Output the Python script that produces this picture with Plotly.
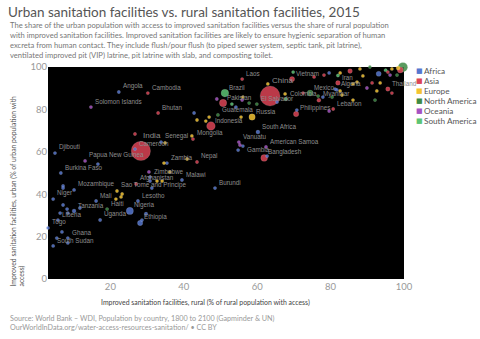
import plotly.graph_objects as go
import numpy as np

# ---------------- data (rural %, urban %, population millions) ----------------
africa_country = ["Angola", "Cameroon", "Djibouti", "", "Burkina Faso", "", "", "Mozambique", "Niger", "Mali",
                  "Lesotho", "", "", "Tanzania", "", "Nigeria", "", "", "Liberia", "Uganda",
                  "Ethiopia", "Kenya", "", "Togo", "", "Ghana", "", "", "South Sudan", "Zimbabwe",
                  "", "", "Malawi", "Burundi", "Zambia", "Senegal", "", "South Africa", "Gambia", "",
                  "", "", "", "", "Algeria", "", "Egypt", "", ""]
africa_rural = [22.3, 26.7, 4.9, 16.6, 6.5, 7.1, 7.1, 10.1, 4.4, 16.1,
                27.5, 7.1, 8.2, 10.1, 11.7, 25.3, 6.3, 8.4, 5.7, 17.2,
                28.1, 29.7, 28.6, 3.0, 6.8, 8.4, 5.4, 8.4, 4.4, 30.8,
                30.8, 31.3, 39.5, 48.5, 35.4, 33.8, 42.8, 60.2, 56.1, 54.8,
                62.7, 65.4, 54.2, 70.8, 81.7, 79.6, 93.1, 81.2, 77.9]
africa_urban = [88.2, 61.3, 59.4, 54.2, 50.0, 43.9, 42.9, 42.0, 37.7, 36.8,
                36.8, 34.9, 33.0, 32.1, 33.5, 32.1, 31.1, 31.1, 27.8, 27.8,
                26.4, 30.7, 27.8, 24.1, 22.2, 19.3, 19.3, 17.0, 15.6, 48.1,
                46.2, 42.9, 46.7, 42.9, 54.7, 64.6, 78.3, 69.3, 62.7, 60.8,
                58.0, 83.5, 81.1, 79.7, 89.2, 97.2, 96.8, 89.6, 85.8]
africa_pop = [28, 23, 1, 8, 18, 8, 8, 28, 20, 17,
              2, 5, 10, 53, 10, 182, 5, 40, 4.5, 40,
              100, 47, 10, 7, 5, 27, 5, 8, 12, 15,
              8, 8, 17, 10, 16, 15, 5, 55, 2, 5,
              5, 5, 5, 5, 40, 5, 92, 5, 5]

asia_country = ["Cambodia", "Bhutan", "India", "", "Afghanistan", "Nepal", "Mongolia", "Indonesia", "Pakistan",
                "China", "Laos", "Vietnam", "Philippines", "Bangladesh", "Iran", "Myanmar", "", "",
                "Turkey", "", "Lebanon", "Thailand", "", "", "", "Japan"]
asia_rural = [30.2, 33.0, 28.3, 26.7, 27.0, 43.6, 42.5, 47.4, 50.7,
              63.5, 55.9, 69.5, 70.6, 61.9, 82.0, 76.8, 75.5, 78.2,
              85.3, 72.5, 80.7, 95.6, 96.7, 91.3, 95.6, 99.0]
asia_urban = [87.7, 78.3, 60.4, 68.4, 44.8, 55.2, 66.0, 72.2, 83.0,
              86.3, 94.3, 94.3, 77.8, 57.1, 92.5, 84.3, 95.3, 96.2,
              98.1, 87.7, 80.2, 89.6, 87.7, 92.5, 97.6, 98.6]
asia_pop = [15, 1, 1310, 3, 33, 28, 3, 258, 190,
            1400, 7, 93, 101, 161, 79, 53, 5, 5,
            78, 5, 6, 68, 10, 5, 5, 127]

europe_country = ["Sao Tome and Principe", "", "", "", "", "", "", "", "", "", "", "", "", "", "",
                  "Russia", "", "", "", "", "", "", "", "", "", "", "", "", "", "", "Germany"]
europe_rural = [21.8, 23.2, 22.9, 21.5, 32.7, 34.1, 36.2, 34.6, 40.9, 34.9, 42.2, 43.6, 46.0, 46.9, 55.6,
                58.6, 56.1, 62.9, 67.6, 82.6, 88.0, 88.8, 87.2, 86.1, 82.6, 83.1, 86.1, 92.6, 96.7, 93.5, 98.4]
europe_urban = [41.5, 40.1, 38.7, 37.7, 46.2, 46.2, 50.5, 54.7, 56.6, 64.2, 67.5, 75.0, 74.5, 76.4, 76.4,
                76.4, 85.8, 92.0, 87.3, 97.2, 99.1, 95.8, 92.9, 92.0, 88.7, 86.8, 84.4, 88.7, 99.1, 92.5, 99.5]
europe_pop = [1, 10, 5, 5, 5, 5, 5, 5, 5, 5, 5, 5, 5, 5, 5,
              144, 5, 5, 5, 5, 5, 5, 5, 5, 5, 5, 5, 5, 5, 5, 60]

namerica_country = ["Haiti", "Guatemala", "Mexico", "El Salvador", "", "", "", "", "", "", "United States"]
namerica_rural = [19.1, 49.3, 74.4, 59.9, 57.8, 76.6, 80.4, 92.1, 90.7, 98.1, 99.7]
namerica_urban = [33.0, 77.4, 87.7, 82.5, 83.0, 86.3, 85.8, 84.4, 100.0, 96.2, 99.9]
namerica_pop = [11, 16, 125, 6, 9, 5, 5, 3, 5, 5, 320]

samerica_country = ["Brazil", "Colombia", "", "", "", ""]
samerica_rural = [51.2, 67.8, 69.8, 53.1, 82.0, 95.0]
samerica_urban = [87.7, 84.9, 97.6, 82.5, 96.0, 98.5]
samerica_pop = [205, 48, 9, 16, 30, 10]

oceania_country = ["Solomon Islands", "Papua New Guinea", "", "Vanuatu", "", "American Samoa", "", "", "", "", ""]
oceania_rural = [14.7, 13.1, 30.5, 55.0, 55.3, 62.4, 55.9, 49.0, 89.9, 79.6, 96.2]
oceania_urban = [81.1, 55.7, 50.5, 64.6, 63.2, 62.3, 84.4, 84.9, 90.1, 79.2, 96.2]
oceania_pop = [0.6, 8, 1, 0.3, 0.3, 0.1, 1, 1, 1, 1, 1]

continents = ["Africa", "Asia", "Europe", "North America", "Oceania", "South America"]
colors = {"Africa": "#5677cf", "Asia": "#dc4455", "Europe": "#f4c431",
          "North America": "#3f8a45", "Oceania": "#a552c2", "South America": "#5cc474"}

labeled = {"Angola", "Cameroon", "Djibouti", "Burkina Faso", "Mozambique", "Niger", "Mali", "Lesotho",
           "Tanzania", "Nigeria", "Liberia", "Uganda", "Ethiopia", "Togo", "Ghana", "South Sudan",
           "Zimbabwe", "Malawi", "Burundi", "Zambia", "Senegal", "South Africa", "Gambia", "Algeria",
           "Cambodia", "Bhutan", "India", "Afghanistan", "Nepal", "Mongolia", "Indonesia", "Pakistan",
           "China", "Laos", "Vietnam", "Philippines", "Bangladesh", "Iran", "Myanmar", "Lebanon", "Thailand",
           "Sao Tome and Principe", "Russia", "Haiti", "Guatemala", "Mexico", "El Salvador",
           "Brazil", "Colombia", "Solomon Islands", "Papua New Guinea", "Vanuatu", "American Samoa"}
big_labels = {"India", "China"}
centered_labels = {"Gambia"}

groups = {
    "Africa": (africa_country, africa_rural, africa_urban, africa_pop),
    "Asia": (asia_country, asia_rural, asia_urban, asia_pop),
    "Europe": (europe_country, europe_rural, europe_urban, europe_pop),
    "North America": (namerica_country, namerica_rural, namerica_urban, namerica_pop),
    "Oceania": (oceania_country, oceania_rural, oceania_urban, oceania_pop),
    "South America": (samerica_country, samerica_rural, samerica_urban, samerica_pop),
}

names, xs, ys, pops, cols = [], [], [], [], []
for c in continents:
    n, x, y, p = groups[c]
    names += n; xs += x; ys += y; pops += p; cols += [colors[c]] * len(n)
pops = np.array(pops, float)
diam = np.maximum(3.3, 20 * np.sqrt(pops / 1400))
order = np.argsort(-pops, kind="stable")

fig = go.Figure()
fig.add_trace(go.Scatter(
    x=np.array(xs)[order], y=np.array(ys)[order], mode="markers",
    text=np.array(names)[order], hoverinfo="text",
    marker=dict(size=diam[order], color=np.array(cols)[order], opacity=0.85,
                line=dict(width=0.4, color="rgba(255,255,255,0.35)")),
    cliponaxis=False, showlegend=False))

annotations = []
for i, nm in enumerate(names):
    if nm in labeled:
        r = diam[i] / 2
        big = nm in big_labels
        mid = nm in centered_labels
        annotations.append(dict(
            x=xs[i], y=ys[i], xref="x", yref="y", text=nm, showarrow=False,
            xanchor="left", yanchor="top" if mid else "bottom",
            xshift=0 if r > 5 else 2, yshift=(r * 0.9 if r > 5 else 0) + (2 if mid else 0),
            font=dict(family="Liberation Sans", size=8 if big else 6.3, color="#8e8e8e")))

L, R, T, B = 48, 76, 67, 60
W, H = 480, 339
pw, ph = W - L - R, H - T - B
def px(x): return (x - L) / pw
def py(y): return (H - B - y) / ph

# legend
for k, c in enumerate(continents):
    yy = py(71 + 10 * k)
    annotations.append(dict(x=px(414), y=yy, xref="paper", yref="paper", text="■", showarrow=False,
                            xanchor="left", yanchor="middle",
                            font=dict(family="DejaVu Sans", size=7, color=colors[c])))
    annotations.append(dict(x=px(422), y=yy, xref="paper", yref="paper", text=c, showarrow=False,
                            xanchor="left", yanchor="middle",
                            font=dict(family="Lato", size=8.2, color="#555")))

annotations.append(dict(
    x=px(8), y=py(18), xref="paper", yref="paper", xanchor="left", yanchor="top", align="left",
    showarrow=False,
    text=("The share of the urban population with access to improved sanitation facilities versus the share of rural population<br>"
          "with improved sanitation facilities. Improved sanitation facilities are likely to ensure hygienic separation of human<br>"
          "excreta from human contact. They include flush/pour flush (to piped sewer system, septic tank, pit latrine),<br>"
          "ventilated improved pit (VIP) latrine, pit latrine with slab, and composting toilet."),
    font=dict(family="Lato", size=7.6, color="#777")))

annotations.append(dict(
    x=px(17), y=py(289), xref="paper", yref="paper", xanchor="center", yanchor="bottom", align="left",
    textangle=-90, showarrow=False,
    text="Improved sanitation facilities, urban (% of urban population with<br>access)",
    font=dict(family="Lato", size=6.8, color="#555")))

annotations.append(dict(
    x=px(205), y=py(302), xref="paper", yref="paper", xanchor="center", yanchor="middle",
    showarrow=False, text="Improved sanitation facilities, rural (% of rural population with access)",
    font=dict(family="Lato", size=6.9, color="#444")))

annotations.append(dict(
    x=px(8), y=py(312), xref="paper", yref="paper", xanchor="left", yanchor="top", align="left",
    showarrow=False,
    text=("Source: World Bank – WDI, Population by country, 1800 to 2100 (Gapminder &amp; UN)<br>"
          "OurWorldInData.org/water-access-resources-sanitation/ • CC BY"),
    font=dict(family="Lato", size=7.2, color="#999")))

fig.update_layout(
    width=W, height=H, margin=dict(l=L, r=R, t=T, b=B),
    paper_bgcolor="white", plot_bgcolor="black",
    title=dict(text="Urban sanitation facilities vs. rural sanitation facilities, 2015",
               x=8 / W, xanchor="left", xref="container", y=1 - 12 / H, yanchor="middle",
               font=dict(family="Lato", size=13.5, color="#555")),
    font=dict(family="Lato"),
    annotations=annotations,
    showlegend=False,
)
fig.update_xaxes(range=[3, 100], tickvals=[20, 40, 60, 80, 100], ticksuffix="%", showgrid=False,
                 zeroline=False, showline=False, tickfont=dict(family="Lato", size=9.5, color="#999"))
fig.update_yaxes(range=[0, 100], tickvals=[0, 20, 40, 60, 80, 100], ticksuffix="%", showgrid=False,
                 zeroline=False, showline=False, tickfont=dict(family="Lato", size=9.5, color="#999"))

fig.write_html("out.html")
